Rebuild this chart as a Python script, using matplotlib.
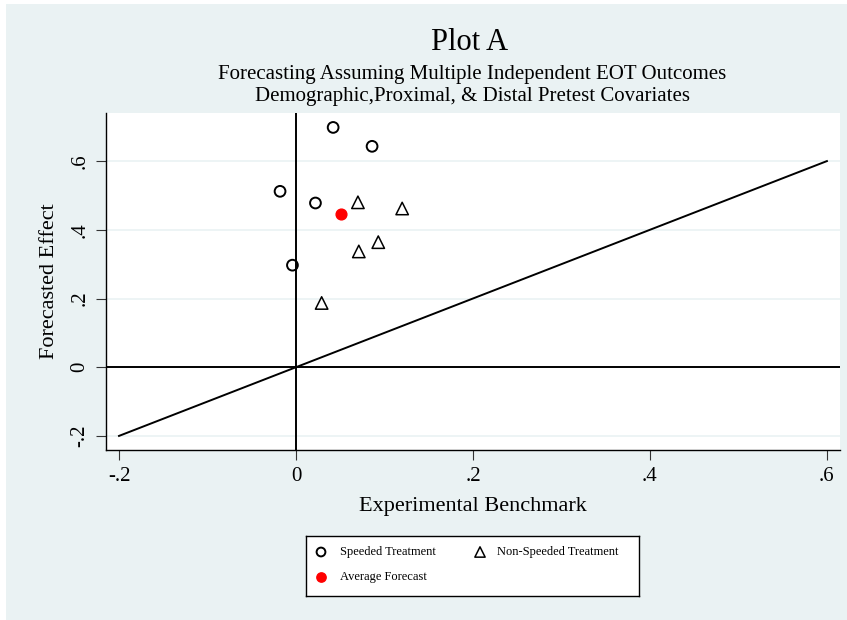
import matplotlib
matplotlib.use("Agg")
import matplotlib.pyplot as plt
from matplotlib.lines import Line2D

# Data
speeded_x = [0.042, 0.086, -0.018, 0.022, -0.004]
speeded_y = [0.698, 0.643, 0.512, 0.478, 0.297]
nonspeeded_x = [0.070, 0.120, 0.093, 0.071, 0.029]
nonspeeded_y = [0.480, 0.462, 0.364, 0.337, 0.187]
avg_x = [0.051]
avg_y = [0.445]
diag = [-0.2, 0.6]
xticks = [-0.2, 0, 0.2, 0.4, 0.6]
yticks = [-0.2, 0, 0.2, 0.4, 0.6]
tick_labels = ["-.2", "0", ".2", ".4", ".6"]

BG = "#eaf2f3"
W, H = 847, 620
plt.rcParams['font.family'] = ['Liberation Serif', 'DejaVu Serif']

fig = plt.figure(figsize=(W / 100, H / 100), dpi=100)
fig.patch.set_facecolor("white")
# outer light background
fig.patches.append(plt.Rectangle((6 / W, 0), 1, 1 - 4 / H, transform=fig.transFigure,
                                 facecolor=BG, edgecolor="none", zorder=-10))

def px(x0, y0, x1, y1):
    return [x0 / W, 1 - y1 / H, (x1 - x0) / W, (y1 - y0) / H]

ax = fig.add_axes(px(106, 113, 840, 450))
ax.set_facecolor("white")
ax.set_xlim(-0.2147, 0.6148)
ax.set_ylim(-0.241, 0.74)

for s in ["top", "right"]:
    ax.spines[s].set_visible(False)
for s in ["left", "bottom"]:
    ax.spines[s].set_color("black")
    ax.spines[s].set_linewidth(1.0)

ax.set_yticks(yticks)
ax.set_yticklabels(tick_labels, rotation=90, va="center", fontsize=15)
ax.set_xticks(xticks)
ax.set_xticklabels(tick_labels, fontsize=15)
ax.tick_params(axis="both", length=7, width=0.8, color="#333333", pad=5)
ax.grid(axis="y", color=BG, linewidth=1.2)
ax.set_axisbelow(True)

ax.axhline(0, color="black", linewidth=1.4, zorder=2)
ax.axvline(0, color="black", linewidth=1.4, zorder=2)
ax.plot(diag, diag, color="black", linewidth=1.4, zorder=2)

ax.scatter(speeded_x, speeded_y, s=60, marker="o", facecolors="none",
           edgecolors="black", linewidths=1.4, zorder=3)
ax.scatter(nonspeeded_x, nonspeeded_y, s=80, marker="^", facecolors="none",
           edgecolors="black", linewidths=1.1, zorder=3)
ax.scatter(avg_x, avg_y, s=60, marker="o", color="red", zorder=3)

ax.set_xlabel("Experimental Benchmark", fontsize=16, labelpad=8)
ax.set_ylabel("Forecasted Effect", fontsize=16, labelpad=8)

fig.text(470 / W, 1 - 42 / H, "Plot A", ha="center", va="center", fontsize=22)
fig.text(472 / W, 1 - 75 / H, "Forecasting Assuming Multiple Independent EOT Outcomes",
         ha="center", va="center", fontsize=15)
fig.text(472 / W, 1 - 97 / H, "Demographic,Proximal, & Distal Pretest Covariates",
         ha="center", va="center", fontsize=15)

# legend box
lax = fig.add_axes(px(306, 536, 639, 596))
lax.set_xlim(306, 639)
lax.set_ylim(596, 536)
lax.set_xticks([]); lax.set_yticks([])
lax.set_facecolor("white")
for s in lax.spines.values():
    s.set_color("black"); s.set_linewidth(1.0)
lax.scatter([321], [552], s=40, marker="o", facecolors="none", edgecolors="black", linewidths=1.4)
lax.scatter([480], [552], s=55, marker="^", facecolors="none", edgecolors="black", linewidths=1.1)
lax.scatter([321], [577], s=45, marker="o", color="red")
lax.text(340, 552, "Speeded Treatment", va="center", fontsize=9)
lax.text(497, 552, "Non-Speeded Treatment", va="center", fontsize=9)
lax.text(340, 577, "Average Forecast", va="center", fontsize=9)

fig.savefig("out.png", dpi=100, facecolor=fig.get_facecolor())
